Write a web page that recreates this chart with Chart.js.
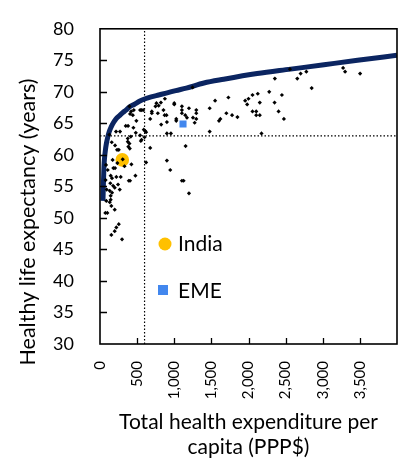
<!DOCTYPE html>
<html>
<head>
<meta charset="utf-8">
<title>Healthy life expectancy vs health expenditure</title>
<script src="https://cdn.jsdelivr.net/npm/chart.js"></script>
<style>
body{margin:0;background:#fff;}
#wrap{width:404px;height:463px;}
</style>
</head>
<body>

<div id="wrap"><canvas id="chart" width="404" height="463"></canvas></div>

<script>

// ================= DATA =================
// one dot per country
const countryX = [
  1247,2558,2355,2657,2702,2779,2851,3274,3301,3503,
  2279,2450,2125,2054,2000,1955,1982,2152,2351,2405,
  2477,2054,2104,2104,2152,2175,1729,1550,1477,1702,
  1779,1851,1621,1603,1477,
  676,698,698,747,779,820,855,874,824,896,
  870,901,901,955,1000,1000,1027,1027,1103,1103,
  1103,1198,1148,1171,1297,1297,1297,1252,1275,1153,
  676,901,946,1103,1126,1198,760,790,
  396,455,419,442,540,557,581,405,490,347,
  378,450,482,550,540,590,608,621,216,270,
  126,158,203,230,253,374,374,396,382,401,
  415,600,560,
  306,423,170,234,330,180,203,81,104,477,
  144,162,220,279,388,405,139,176,198,243,
  266,131,162,144,144,85,131,153,198,72,
  99,253,220,198,153,297,621,75,90
];
const countryY = [
  70.7,73.6,72.1,72.1,72.9,73.2,70.6,73.8,73.2,72.9,
  70.0,69.5,69.7,69.5,68.9,68.6,68.0,68.3,68.3,66.9,
  65.7,66.9,66.9,66.3,66.3,63.4,69.1,68.6,67.4,66.6,
  66.3,66.0,65.7,65.4,63.7,
  65.7,66.9,66.6,67.7,66.6,68.3,67.1,68.9,64.8,66.3,
  66.3,65.2,63.4,63.4,68.2,68.0,65.7,65.4,67.7,67.1,
  66.6,67.4,66.3,65.9,67.1,66.6,65.7,65.9,65.1,61.4,
  61.1,59.1,57.6,55.9,55.9,53.9,68.2,67.8,
  67.7,67.1,66.9,66.3,67.1,67.1,67.1,66.5,65.4,64.6,
  64.6,64.3,63.5,62.2,63.1,64.0,63.8,63.6,63.7,63.7,
  63.2,62.0,61.5,60.8,60.8,62.6,62.1,61.8,61.3,61.0,
  62.9,62.8,62.4,
  59.3,58.5,59.2,58.7,58.2,57.9,57.9,58.4,57.6,56.7,
  56.7,56.3,56.5,56.5,55.9,55.9,55.5,55.1,54.8,55.3,
  54.5,54.3,54.0,53.5,52.9,52.7,52.5,51.9,51.3,50.8,
  50.8,49.0,48.5,47.9,47.3,46.6,58.8,56.0,54.5
];

// fitted curve, read point by point
const curveX = [40,45,50,54,62,72,86,104,125,149,180,216,260,306,350,396,460,531,610,689,790,892,1020,1162,1400,1666,2117,2567,3017,3468,4000];
const curveY = [52.7,55.0,57.0,58.3,59.6,60.7,61.8,62.8,63.7,64.4,65.1,65.7,66.2,66.7,67.1,67.6,68.0,68.5,68.9,69.2,69.5,69.8,70.2,70.6,71.4,72.0,72.9,73.6,74.3,75.0,75.8];

const indiaX = [300], indiaY = [59.2];
const emeX = [1118], emeY = [64.9];

// dotted reference lines
const cutX = 600;
const cutY = 63;

const xTicks = [0,500,1000,1500,2000,2500,3000,3500,4000];
const yTicks = [30,35,40,45,50,55,60,65,70,75,80];

const xTitle = ['Total health expenditure per','capita (PPP$)'];
const yTitle = 'Healthy life expectancy (years)';

// ================= HELPERS =================
function pts(xs, ys){
  return xs.map((x,i)=>({x:x, y:ys[i]}));
}

const FONT = 'Lato, "Open Sans", Arial, sans-serif';

// ================= EXTRAS (frame, inner ticks, y title, legend) =================
const extras = {
  id:'extras',
  afterDraw(chart){
    const ctx = chart.ctx;
    const a = chart.chartArea;
    const sx = chart.scales.x, sy = chart.scales.y;

    ctx.save();
    ctx.strokeStyle = '#000';
    ctx.lineWidth = 1.6;
    ctx.strokeRect(a.left, a.top, a.right-a.left, a.bottom-a.top);

    ctx.lineWidth = 1.3;
    ctx.beginPath();
    yTicks.slice(1,-1).forEach(v=>{
      const y = Math.round(sy.getPixelForValue(v))+0.5;
      ctx.moveTo(a.left, y); ctx.lineTo(a.left+7, y);
    });
    xTicks.slice(1,-1).forEach(v=>{
      const x = Math.round(sx.getPixelForValue(v))+0.5;
      ctx.moveTo(x, a.bottom); ctx.lineTo(x, a.bottom-6);
    });
    ctx.stroke();

    // y title
    ctx.fillStyle = '#000';
    ctx.font = '21.5px ' + FONT;
    ctx.textAlign = 'center';
    ctx.textBaseline = 'middle';
    ctx.translate(28, 222);
    ctx.rotate(-Math.PI/2);
    ctx.fillText(yTitle, 0, 0);
    ctx.restore();

    // legend inside the plot
    ctx.save();
    ctx.fillStyle = '#FFC000';
    ctx.beginPath();
    ctx.arc(165, 244, 6.5, 0, Math.PI*2);
    ctx.fill();
    ctx.fillStyle = '#4287EE';
    ctx.fillRect(158, 285, 10, 10);
    ctx.fillStyle = '#000';
    ctx.font = '21px ' + FONT;
    ctx.textAlign = 'left';
    ctx.textBaseline = 'middle';
    ctx.fillText('India', 178, 244);
    ctx.fillText('EME', 178, 291);
    ctx.restore();
  }
};

// ================= CHART =================
new Chart(document.getElementById('chart'), {
  type:'scatter',
  data:{
    datasets:[
      {label:'EME', data:pts(emeX, emeY), pointStyle:'rect', pointRadius:5,
       backgroundColor:'#4287EE', borderWidth:0},
      {label:'Countries', data:pts(countryX, countryY), pointStyle:'rectRot', pointRadius:2.1,
       backgroundColor:'#000', borderWidth:0},
      {label:'India', data:pts(indiaX, indiaY), pointRadius:6.8,
       backgroundColor:'#FFC000', borderWidth:0},
      {label:'Fit', data:pts(curveX, curveY), showLine:true, pointRadius:0,
       borderColor:'#0B2561', borderWidth:5, cubicInterpolationMode:'monotone'},
      {label:'vline', data:[{x:cutX,y:30},{x:cutX,y:80}], showLine:true, pointRadius:0,
       borderColor:'#000', borderWidth:1.2, borderDash:[1.5,2]},
      {label:'hline', data:[{x:0,y:cutY},{x:4000,y:cutY}], showLine:true, pointRadius:0,
       borderColor:'#000', borderWidth:1.2, borderDash:[1.5,2]}
    ]
  },
  options:{
    responsive:false,
    animation:false,
    devicePixelRatio:1,
    layout:{padding:{top:23, right:7, left:0, bottom:0}},
    plugins:{legend:{display:false}, tooltip:{enabled:false}},
    scales:{
      x:{
        min:0, max:4000,
        afterBuildTicks: s => { s.ticks = xTicks.map(v=>({value:v})); },
        afterFit: s => { s.height = 119; },
        grid:{display:false},
        border:{display:false},
        ticks:{
          color:'#000',
          font:{family:FONT, size:15},
          minRotation:90, maxRotation:90,
          padding:9,
          callback: v => v === 4000 ? null : v.toLocaleString('en-US')
        },
        title:{
          display:true, text:xTitle, color:'#000',
          font:{family:FONT, size:21, lineHeight:1.2},
          padding:{top:0, bottom:3}
        }
      },
      y:{
        min:30, max:80,
        afterBuildTicks: s => { s.ticks = yTicks.map(v=>({value:v})); },
        afterFit: s => { s.width = 100; },
        grid:{display:false},
        border:{display:false},
        ticks:{
          color:'#000',
          font:{family:FONT, size:18},
          padding:18
        }
      }
    }
  },
  plugins:[extras]
});

</script>

</body>
</html>
